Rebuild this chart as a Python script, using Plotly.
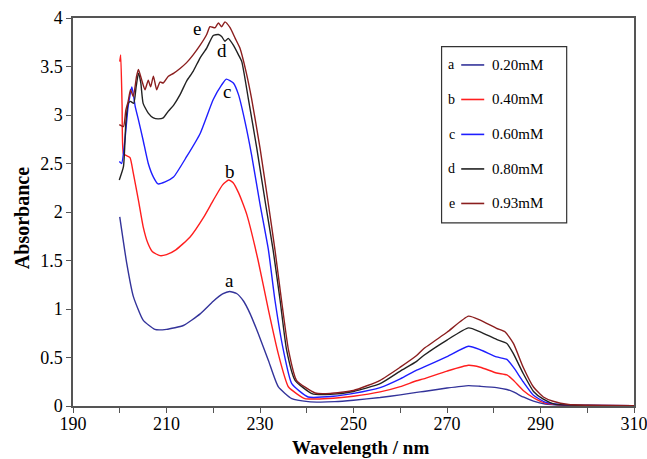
import plotly.graph_objects as go

# ---- data ----
wl_a = [200.0, 201.5, 202.9, 205.0, 207.5, 210.0, 213.6, 217.2, 220.0, 222.0, 223.5, 225.0, 226.5, 227.9, 229.6,
        231.8, 233.9, 236.8, 240.3, 243.0, 246.0, 250.0, 255.7, 260.0, 263.5, 265.0, 270.0, 274.6, 277.1, 280.6,
        282.8, 284.2, 286.3, 288.5, 291.0, 295.0, 300.0, 310.0]
abs_a = [1.95, 1.47, 1.13, 0.885, 0.79, 0.79, 0.83, 0.95, 1.08, 1.155, 1.18, 1.16, 1.08, 0.95, 0.75,
         0.47, 0.20, 0.076, 0.045, 0.04, 0.045, 0.06, 0.087, 0.115, 0.14, 0.15, 0.185, 0.21, 0.203, 0.19,
         0.17, 0.145, 0.093, 0.05, 0.02, 0.008, 0.005, 0.003]

wl_b = [200.0, 200.2, 200.5, 200.8, 201.5, 202.2, 202.9, 204.0, 205.0, 206.0, 207.0, 208.6, 210.0, 212.0, 215.0,
        218.0, 220.0, 222.0, 223.3, 224.3, 225.4, 226.4, 227.2, 229.6, 231.8, 233.9, 236.1, 239.6, 242.0, 245.7,
        250.0, 255.7, 260.0, 263.5, 265.0, 270.0, 274.6, 277.1, 280.6, 282.8, 284.2, 286.3, 288.5, 291.0, 295.0,
        300.0, 310.0]
abs_b = [3.55, 3.62, 3.10, 2.60, 2.58, 2.56, 2.40, 2.12, 1.85, 1.68, 1.59, 1.55, 1.56, 1.61, 1.74,
         1.95, 2.12, 2.28, 2.33, 2.30, 2.20, 2.08, 1.97, 1.50, 0.99, 0.54, 0.196, 0.076, 0.072, 0.08,
         0.10, 0.145, 0.20, 0.26, 0.28, 0.36, 0.42, 0.40, 0.34, 0.32, 0.265, 0.16, 0.085, 0.03, 0.01,
         0.005, 0.003]

wl_c = [199.9, 200.4, 201.1, 201.8, 202.6, 203.3, 204.0, 205.0, 206.1, 207.2, 208.2, 209.7, 211.5, 214.3, 217.2,
        220.0, 221.8, 222.8, 224.3, 225.4, 226.8, 228.2, 230.0, 231.8, 233.2, 235.0, 236.8, 240.3, 245.7, 250.0,
        255.7, 260.0, 263.5, 265.0, 270.0, 274.6, 277.1, 280.6, 282.8, 284.2, 286.3, 288.5, 291.0, 295.0, 300.0,
        310.0]
abs_c = [2.52, 2.50, 2.74, 3.09, 3.29, 3.09, 2.95, 2.74, 2.50, 2.36, 2.29, 2.31, 2.36, 2.57, 2.81,
         3.16, 3.31, 3.37, 3.33, 3.21, 2.93, 2.59, 2.08, 1.61, 1.09, 0.575, 0.23, 0.093, 0.10, 0.13,
         0.19, 0.28, 0.37, 0.40, 0.51, 0.616, 0.58, 0.506, 0.48, 0.40, 0.25, 0.11, 0.04, 0.012, 0.006,
         0.003]

wl_d = [199.9, 200.8, 201.3, 201.8, 202.3, 203.0, 203.5, 204.0, 204.5, 205.0, 206.1, 207.2, 208.2, 209.3, 210.4,
        211.5, 212.9, 214.3, 215.7, 217.2, 218.6, 220.0, 221.1, 221.8, 222.5, 223.2, 224.3, 225.4, 226.1, 227.5,
        229.3, 231.2, 232.8, 234.3, 235.7, 237.5, 241.1, 245.0, 250.0, 255.7, 260.0, 263.5, 265.0, 270.0, 274.6,
        277.1, 280.6, 282.8, 284.2, 286.3, 288.5, 290.6, 293.0, 300.0, 310.0]
abs_d = [2.33, 2.47, 2.92, 3.12, 3.14, 3.12, 3.29, 3.43, 3.33, 3.12, 3.02, 2.97, 2.96, 2.97, 3.04,
         3.10, 3.21, 3.35, 3.45, 3.59, 3.69, 3.82, 3.83, 3.81, 3.76, 3.79, 3.72, 3.62, 3.55, 3.17,
         2.66, 2.08, 1.61, 1.09, 0.575, 0.265, 0.128, 0.12, 0.15, 0.23, 0.36, 0.46, 0.52, 0.68, 0.805,
         0.765, 0.686, 0.645, 0.54, 0.335, 0.15, 0.07, 0.02, 0.006, 0.003]

wl_e = [199.9, 200.8, 201.3, 201.8, 202.3, 202.9, 203.6, 204.0, 204.7, 205.4, 206.1, 206.6, 207.2, 207.9, 208.6,
        209.3, 210.4, 211.5, 212.9, 214.3, 215.7, 217.2, 218.6, 219.3, 220.4, 221.1, 221.8, 222.5, 223.6, 224.7,
        225.7, 227.0, 228.2, 230.0, 231.8, 233.2, 234.6, 236.1, 237.8, 241.8, 245.0, 250.0, 255.7, 260.0, 263.5,
        265.0, 270.0, 274.6, 277.1, 280.6, 282.4, 284.2, 286.3, 288.5, 290.6, 292.7, 296.0, 300.0, 310.0]
abs_e = [2.90, 2.88, 3.05, 3.14, 3.26, 3.19, 3.40, 3.47, 3.36, 3.26, 3.36, 3.29, 3.40, 3.26, 3.34,
         3.33, 3.40, 3.43, 3.48, 3.54, 3.62, 3.72, 3.83, 3.91, 3.90, 3.95, 3.91, 3.96, 3.90, 3.79,
         3.69, 3.45, 3.17, 2.66, 2.08, 1.61, 1.09, 0.575, 0.265, 0.134, 0.13, 0.16, 0.265, 0.40, 0.52,
         0.59, 0.76, 0.926, 0.885, 0.80, 0.765, 0.645, 0.40, 0.196, 0.093, 0.049, 0.015, 0.008, 0.003]

letters = ["a", "b", "c", "d", "e"]
conc_labels = ["0.20mM", "0.40mM", "0.60mM", "0.80mM", "0.93mM"]
colors = ["#33339A", "#FF1E1E", "#1E1EFF", "#222222", "#8B1E1E"]
# curve-label anchor points (wavelength, absorbance)
label_x = [223.4, 223.6, 222.9, 221.8, 216.5]
label_y = [1.29, 2.42, 3.24, 3.66, 3.89]

series_x = [wl_a, wl_b, wl_c, wl_d, wl_e]
series_y = [abs_a, abs_b, abs_c, abs_d, abs_e]

FONT = "Liberation Serif, Times New Roman, serif"

fig = go.Figure()
for i in range(5):
    fig.add_trace(go.Scatter(
        x=series_x[i], y=series_y[i], mode="lines", name=conc_labels[i],
        line=dict(color=colors[i], width=1.4, shape="spline", smoothing=0.5),
        showlegend=False))

annotations = []
for i in range(5):
    annotations.append(dict(x=label_x[i], y=label_y[i], xref="x", yref="y", text=letters[i],
                            showarrow=False, font=dict(family=FONT, size=19, color="black")))

# manual legend (letter, line sample, label) in paper coordinates
shapes = [dict(type="rect", xref="paper", yref="paper", x0=0.657, x1=0.880, y0=0.472, y1=0.926,
               line=dict(color="#333333", width=1.2), fillcolor="white", layer="above")]
leg_y = [0.879, 0.790, 0.700, 0.611, 0.522]
for i in range(5):
    shapes.append(dict(type="line", xref="paper", yref="paper", x0=0.692, x1=0.733,
                       y0=leg_y[i], y1=leg_y[i], line=dict(color=colors[i], width=1.6), layer="above"))
    annotations.append(dict(x=0.675, y=leg_y[i], xref="paper", yref="paper", text=letters[i],
                            showarrow=False, xanchor="center", yanchor="middle",
                            font=dict(family=FONT, size=14, color="black")))
    annotations.append(dict(x=0.743, y=leg_y[i], xref="paper", yref="paper", text=conc_labels[i],
                            showarrow=False, xanchor="left", yanchor="middle",
                            font=dict(family=FONT, size=15, color="black")))

# axis titles
annotations.append(dict(x=0.5116, y=-0.1075, xref="paper", yref="paper", text="<b>Wavelength / nm</b>",
                        showarrow=False, xanchor="center", yanchor="middle",
                        font=dict(family=FONT, size=19, color="black")))
annotations.append(dict(x=-0.091, y=0.484, xref="paper", yref="paper", text="<b>Absorbance</b>",
                        showarrow=False, xanchor="center", yanchor="middle", textangle=-90,
                        font=dict(family=FONT, size=20, color="black")))

fig.update_layout(
    width=647, height=459,
    margin=dict(l=73, r=13, t=18, b=53, autoexpand=False),
    paper_bgcolor="white", plot_bgcolor="white",
    font=dict(family=FONT, size=17, color="black"),
    shapes=shapes, annotations=annotations,
    showlegend=False,
)
fig.update_xaxes(range=[190, 310], dtick=20, tick0=190, ticks="outside", ticklen=5, tickcolor="#555555",
                 showline=True, linecolor="#555555", linewidth=1.5, mirror=True, showgrid=False,
                 zeroline=False, automargin=False, ticklabeloverflow="allow", ticklabelstandoff=-4,
                 tickfont=dict(family=FONT, size=18, color="black"),
                 minor=dict(dtick=10, tick0=190, ticks="outside", ticklen=5, tickcolor="#555555", showgrid=False))
fig.update_yaxes(range=[0, 4], dtick=0.5, tick0=0, ticks="outside", ticklen=5, tickcolor="#555555",
                 showline=True, linecolor="#555555", linewidth=1.5, mirror=True, showgrid=False,
                 zeroline=False, automargin=False, ticklabeloverflow="allow",
                 tickfont=dict(family=FONT, size=18, color="black"))

fig.write_html("out.html", config={"displayModeBar": False},
               post_script="document.body.style.margin='0px';document.body.style.padding='0px';")
